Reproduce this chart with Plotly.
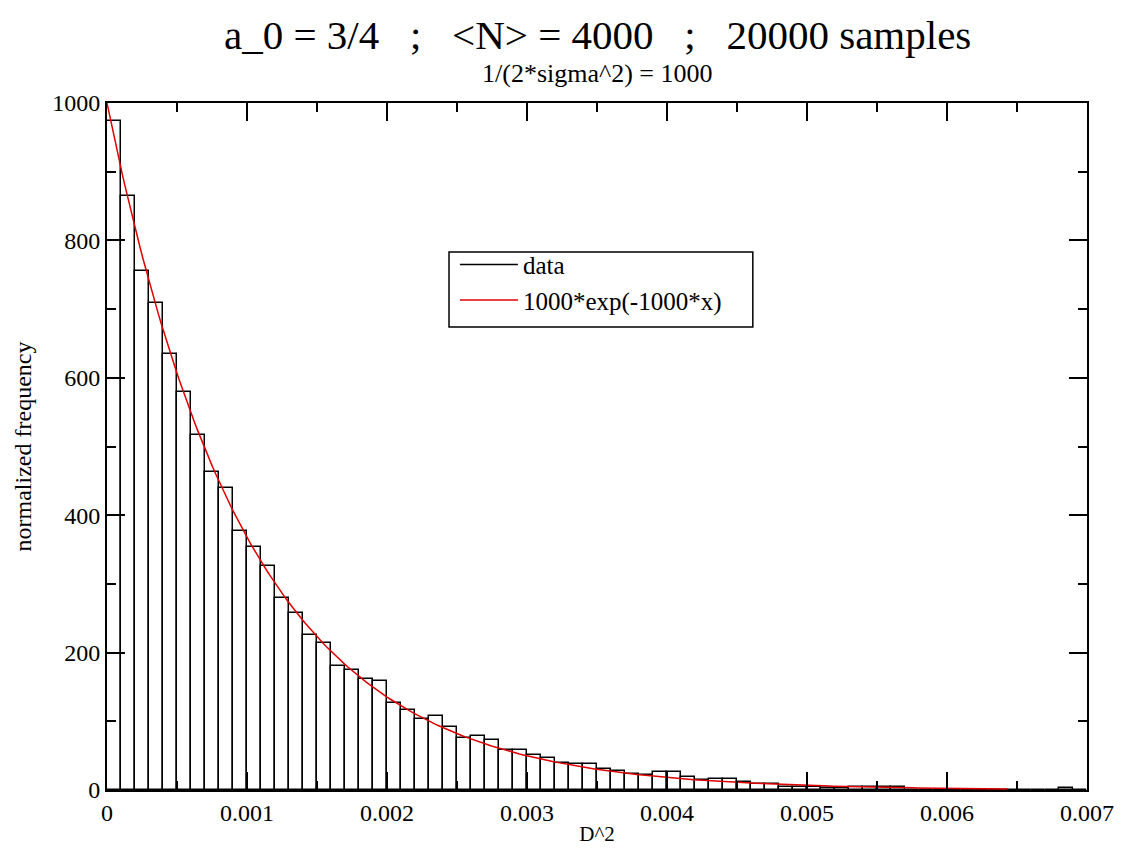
import numpy as np
import plotly.graph_objects as go

# histogram of D^2, bin width 0.0001 (normalized frequency)
bin_width = 0.0001
heights = [974, 865, 755, 709, 635, 579, 517, 463, 439, 377,
           354, 326, 280, 258, 226, 214, 180, 175, 161, 158,
           126, 117, 103, 107, 91, 75, 79, 73, 58, 58,
           51, 47, 39, 38, 38, 31, 27, 24, 22, 26,
           26, 19, 14, 16, 16, 11, 9, 9, 5, 5,
           4, 3, 3, 4, 5, 5, 4, 0, 0, 0,
           0, 0, 0, 0, 0, 0, 0, 0, 3, 0]
bin_left = [i * bin_width for i in range(len(heights))]
bin_center = [b + bin_width / 2 for b in bin_left]

x_ticks = [0, 0.001, 0.002, 0.003, 0.004, 0.005, 0.006, 0.007]
x_ticktext = ["0", "0.001", "0.002", "0.003", "0.004", "0.005", "0.006", "0.007"]

# fitted curve 1000*exp(-1000*x)
amp = 1000
rate = 1000
x_end = 0.00643
fit_x = np.linspace(0, x_end, 300)
fit_y = amp * np.exp(-rate * fit_x)

serif = "Liberation Serif, Times New Roman, serif"

fig = go.Figure()
fig.add_trace(go.Bar(
    x=bin_center, y=heights, width=bin_width,
    marker=dict(color="white", line=dict(color="black", width=1.5)),
    showlegend=False,
))
# legend entry for the histogram, drawn as a line like the original
fig.add_trace(go.Scatter(x=[None], y=[None], mode="lines", name="data",
                         line=dict(color="black", width=1.5)))
fig.add_trace(go.Scatter(x=fit_x, y=fit_y, mode="lines", name="1000*exp(-1000*x)",
                         line=dict(color="#e00000", width=1.5)))

axis_common = dict(
    showline=True, linecolor="black", linewidth=2, mirror="ticks",
    ticks="inside", ticklen=18, tickwidth=2, tickcolor="black",
    showgrid=False, zeroline=False, automargin=False,
    tickfont=dict(family=serif, size=24, color="black"),
)
fig.update_xaxes(range=[0, 0.007], tickvals=x_ticks, ticktext=x_ticktext,
                 minor=dict(dtick=0.0005, ticks="inside", ticklen=9, tickwidth=2, tickcolor="black"),
                 title=dict(text="D^2", font=dict(family=serif, size=21, color="black"), standoff=2),
                 **axis_common)
fig.update_yaxes(range=[0, 1000], dtick=200,
                 minor=dict(dtick=100, ticks="inside", ticklen=9, tickwidth=2, tickcolor="black"),
                 title=dict(text="normalized frequency", font=dict(family=serif, size=24, color="black"),
                            standoff=14),
                 **axis_common)

# page has an 8px body margin, so the figure is a bit smaller and shifted
fig.update_layout(
    width=1115, height=848,
    margin=dict(l=99, r=36, t=95, b=66),
    paper_bgcolor="white", plot_bgcolor="white",
    font=dict(family=serif, color="black"),
    bargap=0,
    annotations=[
        dict(text="a_0 = 3/4   ;   &lt;N&gt; = 4000   ;   20000 samples", xref="paper", yref="paper",
             x=0.5, y=1.0, yshift=68, xanchor="center", yanchor="middle",
             showarrow=False, font=dict(family=serif, size=41, color="black")),
        dict(text="1/(2*sigma^2) = 1000", xref="paper", yref="paper",
             x=0.5, y=1.0, yshift=30, xanchor="center", yanchor="middle",
             showarrow=False, font=dict(family=serif, size=26, color="black")),
    ],
    shapes=[dict(type="rect", xref="paper", yref="paper",
                 x0=0.349, x1=0.659, y0=0.674, y1=0.783,
                 line=dict(color="black", width=1.5), fillcolor="white", layer="above")],
    legend=dict(x=0.355, y=0.798, xanchor="left", yanchor="top",
                bgcolor="rgba(0,0,0,0)", borderwidth=0,
                font=dict(family=serif, size=25, color="black"),
                itemwidth=58, tracegroupgap=0),
)

fig.write_html("out.html")
